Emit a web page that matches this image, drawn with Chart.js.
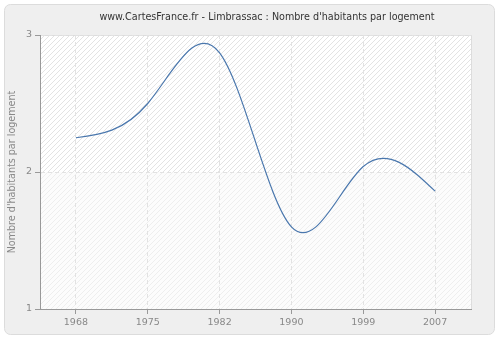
<!DOCTYPE html>
<html>
<head>
<meta charset="utf-8">
<script src="https://cdn.jsdelivr.net/npm/chart.js@4"></script>
<style>
    html, body { margin: 0; padding: 0; background: #fff; }
    #wrapper { width: 500px; height: 340px; }
</style>
</head>
<body>
<div id="wrapper"><canvas id="graph" width="500" height="340"></canvas></div>
<script>
"use strict";
// données
const annees = ["1968", "1975", "1982", "1990", "1999", "2007"];
const habitantsParLogement = [2.25, 2.50, 2.87, 1.60, 2.04, 1.86];
const ticksY = [1, 2, 3];
const titre = "www.CartesFrance.fr - Limbrassac : Nombre d'habitants par logement";
const titreY = "Nombre d'habitants par logement";

const police = "'DejaVu Sans', Verdana, sans-serif";

// motif hachuré pour le fond du graphique
function creaMotif(fond, trait) {
    let n = 5;
    let c = document.createElement("canvas");
    c.width = n; c.height = n;
    let g = c.getContext("2d");
    g.fillStyle = fond;
    g.fillRect(0, 0, n, n);
    g.strokeStyle = trait;
    g.lineWidth = 1;
    g.beginPath();
    g.moveTo(-1, n + 1); g.lineTo(n + 1, -1);
    g.moveTo(-1, 1); g.lineTo(1, -1);
    g.moveTo(n - 1, n + 1); g.lineTo(n + 1, n - 1);
    g.stroke();
    return g.createPattern(c, "repeat");
}

const sfondo = {
    id: "sfondo",
    beforeDraw(chart) {
        let ctx = chart.ctx;
        let a = chart.chartArea;
        ctx.save();
        // cadre arrondi
        ctx.fillStyle = "#efefef";
        ctx.strokeStyle = "#dcdcdc";
        ctx.lineWidth = 1;
        ctx.beginPath();
        ctx.roundRect(4.5, 4.5, 490, 330, 6);
        ctx.fill();
        ctx.stroke();
        // titre
        ctx.fillStyle = "#333333";
        ctx.font = "9.6px " + police;
        ctx.textAlign = "center";
        ctx.textBaseline = "middle";
        ctx.fillText(titre, 267, 17);
        // zone du tracé
        let y2 = chart.scales.y.getPixelForValue(2);
        ctx.fillStyle = creaMotif("#ffffff", "#e3e3e3");
        ctx.fillRect(a.left, a.top, a.right - a.left, y2 - a.top);
        ctx.fillStyle = creaMotif("#fcfcfc", "#eeeeee");
        ctx.fillRect(a.left, y2, a.right - a.left, a.bottom - y2);
        ctx.strokeStyle = "#dddddd";
        ctx.beginPath();
        ctx.moveTo(a.left, a.top + 0.5);
        ctx.lineTo(a.right + 0.5, a.top + 0.5);
        ctx.lineTo(a.right + 0.5, a.bottom);
        ctx.stroke();
        ctx.restore();
    }
};

// spline cubique naturelle : points de contrôle de Bézier
const spline = {
    id: "spline",
    beforeDatasetsDraw(chart) {
        let meta = chart.getDatasetMeta(0);
        let pts = meta.data;
        let n = pts.length - 1;
        if (n < 2) return;
        let Y = pts.map(p => p.y);
        // système tridiagonal pour les dérivées secondes (pas unitaire)
        let M = new Array(n + 1).fill(0);
        let c = new Array(n + 1).fill(0);
        let d = new Array(n + 1).fill(0);
        for (let i = 1; i < n; i++) {
            let r = 6 * (Y[i + 1] - 2 * Y[i] + Y[i - 1]);
            let den = 4 - (i > 1 ? c[i - 1] : 0);
            c[i] = 1 / den;
            d[i] = (r - (i > 1 ? d[i - 1] : 0)) / den;
        }
        for (let i = n - 1; i >= 1; i--) {
            M[i] = d[i] - c[i] * M[i + 1];
        }
        let D = [];
        for (let i = 0; i < n; i++) {
            D[i] = (Y[i + 1] - Y[i]) - (2 * M[i] + M[i + 1]) / 6;
        }
        D[n] = (Y[n] - Y[n - 1]) + (M[n - 1] + 2 * M[n]) / 6;
        for (let i = 0; i <= n; i++) {
            let p = pts[i];
            let dxPrev = i > 0 ? p.x - pts[i - 1].x : 0;
            let dxNext = i < n ? pts[i + 1].x - p.x : 0;
            p.cp1x = p.x - dxPrev / 3;
            p.cp1y = p.y - D[i] / 3;
            p.cp2x = p.x + dxNext / 3;
            p.cp2y = p.y + D[i] / 3;
        }
        meta.dataset._pointsUpdated = true;
        delete meta.dataset._path;
    }
};

window.onload = function () {
    let _canvas = document.getElementById("graph");
    let grille = {
        color: "#e2e2e2",
        tickColor: "#999999",
        tickLength: 5,
        tickBorderDash: []
    };
    new Chart(_canvas, {
        type: "line",
        data: {
            labels: annees,
            datasets: [{
                data: habitantsParLogement,
                borderColor: "#4a77ad",
                borderWidth: 1.2,
                pointRadius: 0,
                tension: 0.4,
                fill: false
            }]
        },
        options: {
            responsive: false,
            animation: false,
            events: [],
            layout: { padding: { left: 0, right: 29, top: 35, bottom: 0 } },
            plugins: {
                legend: { display: false },
                tooltip: { enabled: false },
                title: { display: false }
            },
            scales: {
                x: {
                    offset: true,
                    afterFit(s) { s.height = 31; },
                    grid: grille,
                    border: { display: true, color: "#999999", width: 1, dash: [4, 3] },
                    ticks: {
                        color: "#888888",
                        font: { family: police, size: 9.5 },
                        padding: 3,
                        maxRotation: 0
                    }
                },
                y: {
                    min: 1,
                    max: 3,
                    afterFit(s) { s.width = 40; },
                    afterBuildTicks(s) { s.ticks = ticksY.map(v => ({ value: v })); },
                    grid: grille,
                    border: { display: true, color: "#999999", width: 1, dash: [4, 3] },
                    ticks: {
                        color: "#888888",
                        font: { family: police, size: 9.5 },
                        padding: 3
                    },
                    title: {
                        display: true,
                        text: titreY,
                        color: "#888888",
                        font: { family: police, size: 9.6 },
                        padding: { top: 7, bottom: 0 }
                    }
                }
            }
        },
        plugins: [sfondo, spline]
    });
};
</script>
</body>
</html>
